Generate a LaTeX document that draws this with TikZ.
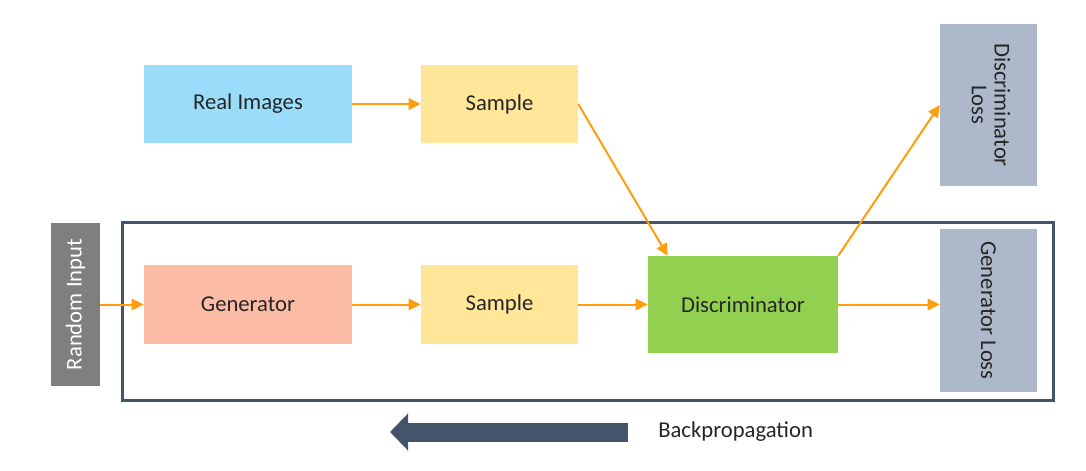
\documentclass[tikz,border=0pt]{standalone}
\usepackage{fontspec}
\setmainfont{Carlito}
\usepackage{xcolor}
\usepackage{tikz}
\usetikzlibrary{arrows.meta,calc}
\definecolor{realblue}{HTML}{99DDFB}
\definecolor{sampyellow}{HTML}{FFE699}
\definecolor{gensalmon}{HTML}{FCBBA5}
\definecolor{discgreen}{HTML}{92D050}
\definecolor{lossgray}{HTML}{ADB9CA}
\definecolor{randgray}{HTML}{7F7F7F}
\definecolor{slate}{HTML}{44546A}
\definecolor{flow}{HTML}{FF9E0C}
\tikzset{block/.style={inner sep=0pt,align=center,text=black!85}}

\begin{document}
\begin{tikzpicture}[x=0.75pt, y=-0.75pt, >={Triangle[length=9pt,width=8.5pt]},
    every node/.style={font=\fontsize{17}{20}\selectfont}]
    \useasboundingbox (0,0) rectangle (1086,471);
    % top row
    \node[block,fill=realblue,minimum width=156pt,minimum height=58.5pt] (real) at (248,104) {Real Images};
    \node[block,fill=sampyellow,minimum width=117.75pt,minimum height=58.5pt] (samp1) at (499.5,104) {Sample};
    % bottom row
    \draw[slate,line width=2.25pt] (122,222) rectangle (1053,400);
    \node[block,fill=randgray,text=white,minimum width=36.75pt,minimum height=122.25pt] (rand) at (75.5,304.5) {\rotatebox{90}{Random Input}};
    \node[block,fill=gensalmon,minimum width=156pt,minimum height=59.25pt] (gen) at (248,304.5) {Generator};
    \node[block,fill=sampyellow,minimum width=117.75pt,minimum height=59.25pt] (samp2) at (499.5,304.5) {Sample};
    \node[block,fill=discgreen,minimum width=142.5pt,minimum height=72.75pt] (disc) at (743,304.5) {Discriminator};
    % losses
    \node[block,fill=lossgray,minimum width=72.75pt,minimum height=121.5pt] (dloss) at (988.5,105) {\rotatebox{-90}{\begin{tabular}{@{}c@{}}Discriminator\\[-3pt]Loss\end{tabular}}};
    \node[block,fill=lossgray,minimum width=72.75pt,minimum height=122.25pt] (gloss) at (988.5,310.5) {\rotatebox{-90}{Generator Loss}};
    \path[->,flow,line width=1.5pt] (real) edge (samp1)
        (rand) edge (gen)
        (gen) edge (samp2)
        (samp2) edge (disc)
        (samp1.east) edge ([xshift=15pt]disc.north west)
        (disc.north east) edge (dloss.west)
        (disc.east) edge (disc.east -| gloss.west);
    % backpropagation
    \coordinate (bpR) at (628,432);
    \coordinate (bpL) at (390,432);
    \draw[slate,line width=14.25pt,-{Triangle[length=13.5pt,width=27pt]}] (bpR) -- (bpL);
    \node[anchor=west,inner sep=0pt,text=black!85] (bp) at (658,432) {Backpropagation};
\end{tikzpicture}
\end{document}
